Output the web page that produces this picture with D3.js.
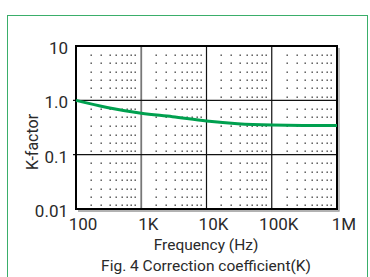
<!DOCTYPE html>
<html><head><meta charset="utf-8">
<script src="https://cdn.jsdelivr.net/npm/d3@7"></script>
<style>
html,body{margin:0;padding:0;background:#fff;}
text{font-family:Roboto,"Noto Sans",sans-serif;fill:#2a2a2a;}
</style></head>
<body>
<svg id="c" width="370" height="277"></svg>
<script>
// data
const freqs = [100, 300, 1000, 3000, 10000, 30000, 100000, 300000, 1000000];
const kFactor = [1.0, 0.74, 0.58, 0.50, 0.415, 0.37, 0.35, 0.345, 0.345];
const xTickValues = [100, 1000, 10000, 100000, 1000000];
const xTickLabels = ["100", "1K", "10K", "100K", "1M"];
const yTickValues = [10, 1, 0.1, 0.01];
const yTickLabels = ["10", "1.0", "0.1", "0.01"];
const xTitle = "Frequency (Hz)";
const yTitle = "K-factor";
const caption = "Fig. 4 Correction coefficient(K)";

const svg = d3.select("#c");
const L = 76, R = 337, T = 46, B = 209;
const x = d3.scaleLog().domain([100, 1e6]).range([L, R]);
const y = d3.scaleLog().domain([0.01, 10]).range([B, T]);

// outer green box
svg.append("rect").attr("x", 7.5).attr("y", 15.5).attr("width", 360).attr("height", 270)
  .attr("fill", "none").attr("stroke", "#3aae6a").attr("stroke-width", 1);

// dotted minor grid
const xFr = [0.228, 0.38, 0.517, 0.62, 0.70, 0.776, 0.85, 0.91];
const yFr = [0.16, 0.31, 0.47, 0.63, 0.78, 0.93];
const dots = [];
xTickValues.slice(0, -1).forEach(d0 => {
  xFr.forEach(fx => {
    yTickValues.slice(0, -1).forEach(v0 => {
      yFr.forEach(fy => {
        dots.push([x(d0 * Math.pow(10, fx)), y(v0 / Math.pow(10, fy))]);
      });
    });
  });
});
svg.append("g").selectAll("rect").data(dots).join("rect")
  .attr("x", d => Math.round(d[0]) - 0.5).attr("y", d => Math.round(d[1]) - 0.5)
  .attr("width", 1.4).attr("height", 1.4).attr("fill", "#444");

// major grid
svg.append("g").selectAll("line").data(xTickValues.slice(1, -1)).join("line")
  .attr("x1", d => x(d)).attr("x2", d => x(d)).attr("y1", T).attr("y2", B)
  .attr("stroke", (d, i) => i === 0 ? "#777" : "#111").attr("stroke-width", (d, i) => i === 0 ? 1.8 : 1.2);
svg.append("g").selectAll("line").data(yTickValues.slice(1, -1)).join("line")
  .attr("x1", L - 3).attr("x2", R).attr("y1", d => y(d)).attr("y2", d => y(d))
  .attr("stroke", "#111").attr("stroke-width", 1.1);

// frame with shadow
svg.append("path").attr("d", `M${R + 2},${T + 2}V${B + 2}H${L + 2}`)
  .attr("fill", "none").attr("stroke", "#999").attr("stroke-width", 1.3);
svg.append("rect").attr("x", L).attr("y", T).attr("width", R - L).attr("height", B - T)
  .attr("fill", "none").attr("stroke", "#000").attr("stroke-width", 2);

// curve
const line = d3.line().x((d, i) => x(freqs[i])).y(d => y(d)).curve(d3.curveMonotoneX);
svg.append("path").datum(kFactor).attr("d", line)
  .attr("fill", "none").attr("stroke", "#00a04f").attr("stroke-width", 3);

// axis labels
svg.append("g").selectAll("text").data(xTickValues).join("text")
  .attr("x", d => x(d) + 7).attr("y", 230).attr("text-anchor", "middle")
  .attr("font-size", 17).text((d, i) => xTickLabels[i]);
svg.append("g").selectAll("text").data(yTickValues).join("text")
  .attr("x", 68).attr("y", d => y(d) + 2).attr("dy", "0.35em").attr("text-anchor", "end")
  .attr("font-size", 17).text((d, i) => yTickLabels[i]);

svg.append("text").attr("x", 206).attr("y", 250).attr("text-anchor", "middle")
  .attr("font-size", 15.5).text(xTitle);
svg.append("text").attr("x", 206).attr("y", 271).attr("text-anchor", "middle")
  .attr("font-size", 15.5).text(caption);
svg.append("text").attr("transform", "translate(38,142) rotate(-90)").attr("text-anchor", "middle")
  .attr("font-size", 16).text(yTitle);
</script>
</body></html>
